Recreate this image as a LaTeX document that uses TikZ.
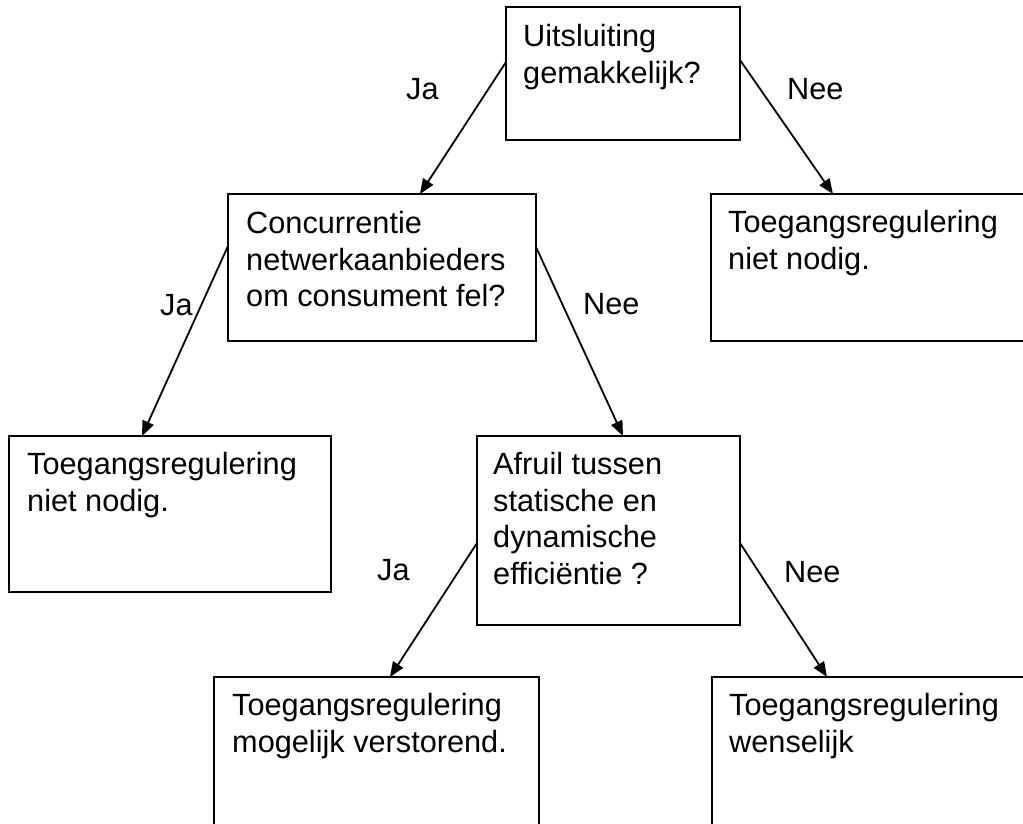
\documentclass[tikz,border=0pt]{standalone}
\usepackage{fontspec}
\setmainfont{Liberation Sans}
\usetikzlibrary{arrows.meta,calc}
\begin{document}
\begin{tikzpicture}[x=1pt,y=-1pt,
  box/.style={draw=black,line width=1.5pt,rectangle,anchor=north west,inner sep=0pt,outer sep=0pt},
  txt/.style={anchor=north west,inner sep=0pt,align=left,font=\fontsize{30.7}{36.7}\selectfont},
  lbl/.style={anchor=base west,inner sep=0pt,font=\fontsize{30.7}{36.7}\selectfont},
  arr/.style={line width=1.8pt,-{Triangle[length=15pt,width=12pt]},shorten <=0.5pt}]
\path[use as bounding box,clip] (0,0) rectangle (1023,823);
% boxes
\node[box,minimum width=234pt,minimum height=133pt] (top) at (506,7) {};
\node[box,minimum width=308pt,minimum height=147pt] (conc) at (228,194) {};
\node[box,minimum width=330pt,minimum height=147pt] (rt) at (711,194) {};
\node[box,minimum width=322pt,minimum height=156pt] (lb) at (9,436) {};
\node[box,minimum width=263pt,minimum height=189pt] (af) at (477,436) {};
\node[box,minimum width=325pt,minimum height=170pt] (bl) at (214,677) {};
\node[box,minimum width=330pt,minimum height=170pt] (br) at (712,677) {};
% texts
\node[txt] (topt) at ($(top.north west)+(17,17)$) {Uitsluiting\\gemakkelijk?};
\node[txt] (conct) at ($(conc.north west)+(18,17)$) {Concurrentie\\netwerkaanbieders\\om consument fel?};
\node[txt] (rtt) at ($(rt.north west)+(17,16)$) {Toegangsregulering\\niet nodig.};
\node[txt] (lbt) at ($(lb.north west)+(18,16)$) {Toegangsregulering\\niet nodig.};
\node[txt] (aft) at ($(af.north west)+(16,16)$) {Afruil tussen\\statische en\\dynamische\\efficiëntie ?};
\node[txt] (blt) at ($(bl.north west)+(18,16)$) {Toegangsregulering\\mogelijk verstorend.};
\node[txt] (brt) at ($(br.north west)+(17,16)$) {Toegangsregulering\\wenselijk};
% labels
\node[lbl] (l1) at (406,99) {Ja};
\node[lbl] (l2) at (787,99) {Nee};
\node[lbl] (l3) at (160,315) {Ja};
\node[lbl] (l4) at (583,314) {Nee};
\node[lbl] (l5) at (377,580) {Ja};
\node[lbl] (l6) at (784,582) {Nee};
% connectors
\draw[arr] ([yshift=11.5pt]top.west) -- ([xshift=38pt]conc.north);
\draw[arr] ([yshift=13.5pt]top.east) -- ([xshift=-43pt]rt.north);
\draw[arr] ([yshift=21.5pt]conc.west) -- ([xshift=-28pt]lb.north);
\draw[arr] ([yshift=20.5pt]conc.east) -- ([xshift=14.5pt]af.north);
\draw[arr] ([yshift=-12.5pt]af.west) -- ([xshift=13.5pt]bl.north);
\draw[arr] ([yshift=-12.5pt]af.east) -- ([xshift=-50pt]br.north);
\end{tikzpicture}
\end{document}
